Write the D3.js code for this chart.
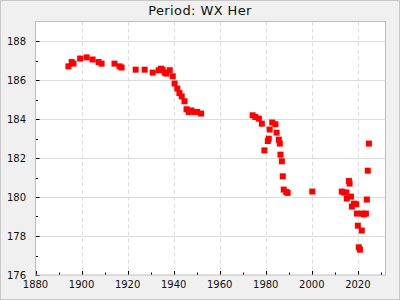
<!DOCTYPE html>
<meta charset="utf-8">
<head>
  <style>
    body { margin: 0; background: #f0f0f0; }
    svg { display: block; font-family: "DejaVu Sans", sans-serif; }
  </style>
  <script src="https://d3js.org/d3.v7.min.js"></script>
</head>
<body>
<div id="chart"></div>
<script>
  // *** Data (year, period value)
  var years = [
    1894.3, 1895.7, 1896.5, 1899.4, 1902.2, 1904.8, 1907.4, 1908.7, 1914.3, 1916.5,
    1917.4, 1923.5, 1927.4, 1930.9, 1933.5, 1934.5, 1935.2, 1936.1, 1936.8, 1938.3,
    1939.6, 1940.4, 1941.6, 1942.5, 1943.5, 1944.7, 1945.6, 1946.5, 1947.7, 1949.1,
    1950.2, 1951.9,
    1974.3, 1975.5, 1977.0, 1978.3, 1979.4, 1980.9, 1981.3, 1981.7, 1982.8, 1984.2,
    1984.7, 1985.7, 1986.1, 1986.4, 1987.0, 1987.4, 1987.8, 1988.9, 1989.5,
    2000.2, 2013.0, 2013.9, 2015.0, 2015.2, 2016.1, 2016.4, 2017.0, 2017.4, 2018.3,
    2019.3, 2019.6, 2020.0, 2020.4, 2020.9, 2021.7, 2021.9, 2022.6, 2023.5, 2023.9,
    2024.3, 2024.8
  ];
  var values = [
    186.70, 186.92, 186.84, 187.10, 187.16, 187.05, 186.92, 186.84, 186.84, 186.70,
    186.64, 186.53, 186.53, 186.38, 186.50, 186.58, 186.53, 186.38, 186.33, 186.50,
    186.19, 185.82, 185.56, 185.33, 185.16, 184.91, 184.50, 184.36, 184.44, 184.36,
    184.36, 184.28,
    184.19, 184.10, 184.02, 183.76, 182.39, 182.87, 182.99, 183.46, 183.82, 183.73,
    183.30, 182.94, 182.74, 182.17, 181.83, 181.06, 180.38, 180.26, 180.21,
    180.28, 180.28, 180.23, 180.23, 179.92, 180.82, 180.69, 180.02, 179.51, 179.66,
    179.63, 179.15, 178.53, 177.42, 177.30, 178.28, 179.15, 179.11, 179.15, 179.87,
    181.35, 182.74
  ];
  var xTicks = [1880, 1900, 1920, 1940, 1960, 1980, 2000, 2020];
  var xMinor = [1890, 1910, 1930, 1950, 1970, 1990, 2010, 2030];
  var yTicks = [176, 178, 180, 182, 184, 186, 188];
  var yMinor = [177, 179, 181, 183, 185, 187];
  var title = "Period: WX Her";

  var W = 400, H = 300;
  var pLeft = 35.5, pRight = 385.5, pTop = 21.5, pBottom = 275;

  var svg = d3.select("#chart").append("svg")
    .attr("width", W)
    .attr("height", H);

  svg.append("rect")
    .attr("x", 0.5).attr("y", 0.5)
    .attr("width", W - 1).attr("height", H - 1)
    .attr("fill", "#f0f0f0")
    .attr("stroke", "#c8c8c8");

  var x = d3.scaleLinear().domain([1880, 2032]).range([pLeft, pRight]);
  var y = d3.scaleLinear().domain([176, 189]).range([pBottom, pTop]);

  // plot area
  svg.append("rect")
    .attr("x", pLeft).attr("y", pTop)
    .attr("width", pRight - pLeft).attr("height", pBottom - pTop)
    .attr("fill", "#fff");

  // grid
  svg.append("g").selectAll("line")
    .data(yTicks.slice(1))
    .enter().append("line")
    .attr("x1", pLeft).attr("x2", pRight)
    .attr("y1", function(d) { return Math.round(y(d)) + 0.5; })
    .attr("y2", function(d) { return Math.round(y(d)) + 0.5; })
    .attr("stroke", "#dcdcdc");

  svg.append("g").selectAll("line")
    .data(xTicks.slice(1))
    .enter().append("line")
    .attr("x1", function(d) { return Math.round(x(d)) + 0.5; })
    .attr("x2", function(d) { return Math.round(x(d)) + 0.5; })
    .attr("y1", pTop).attr("y2", pBottom)
    .attr("stroke", "#dcdcdc")
    .attr("stroke-dasharray", "4,3");

  // ticks (inward)
  var tk = svg.append("g").attr("stroke", "#000");
  tk.selectAll(".ymaj").data(yTicks).enter().append("line")
    .attr("x1", pLeft).attr("x2", pLeft + 4)
    .attr("y1", function(d) { return Math.round(y(d)) + 0.5; })
    .attr("y2", function(d) { return Math.round(y(d)) + 0.5; });
  tk.selectAll(".ymin").data(yMinor).enter().append("line")
    .attr("x1", pLeft).attr("x2", pLeft + 2.5)
    .attr("y1", function(d) { return Math.round(y(d)) + 0.5; })
    .attr("y2", function(d) { return Math.round(y(d)) + 0.5; });
  tk.selectAll(".xmaj").data(xTicks).enter().append("line")
    .attr("x1", function(d) { return Math.round(x(d)) + 0.5; })
    .attr("x2", function(d) { return Math.round(x(d)) + 0.5; })
    .attr("y1", pBottom).attr("y2", pBottom - 4);
  tk.selectAll(".xmin").data(xMinor).enter().append("line")
    .attr("x1", function(d) { return Math.round(x(d)) + 0.5; })
    .attr("x2", function(d) { return Math.round(x(d)) + 0.5; })
    .attr("y1", pBottom).attr("y2", pBottom - 2.5);

  // frame
  svg.append("rect")
    .attr("x", pLeft).attr("y", pTop)
    .attr("width", pRight - pLeft).attr("height", pBottom - pTop)
    .attr("fill", "none")
    .attr("stroke", "#bdbdbd");

  // tick labels
  svg.append("g").selectAll("text")
    .data(yTicks).enter().append("text")
    .attr("x", 26)
    .attr("y", function(d) { return y(d) + 3.5; })
    .attr("text-anchor", "end")
    .attr("font-size", 10)
    .attr("fill", "#111")
    .text(function(d) { return d; });

  svg.append("g").selectAll("text")
    .data(xTicks).enter().append("text")
    .attr("x", function(d) { return x(d); })
    .attr("y", 287.5)
    .attr("text-anchor", "middle")
    .attr("font-size", 10)
    .attr("fill", "#111")
    .text(function(d) { return d; });

  // title
  svg.append("text")
    .attr("x", 200).attr("y", 15)
    .attr("text-anchor", "middle")
    .attr("font-size", 13)
    .attr("letter-spacing", 0.4)
    .attr("fill", "#111")
    .text(title);

  // points
  var s = 6;
  svg.append("g").selectAll("rect")
    .data(years.map(function(d, i) { return [d, values[i]]; }))
    .enter().append("rect")
    .attr("x", function(d) { return x(d[0]) - s / 2; })
    .attr("y", function(d) { return y(d[1]) - s / 2; })
    .attr("width", s).attr("height", s)
    .attr("fill", "#ff0000");
</script>
</body>
